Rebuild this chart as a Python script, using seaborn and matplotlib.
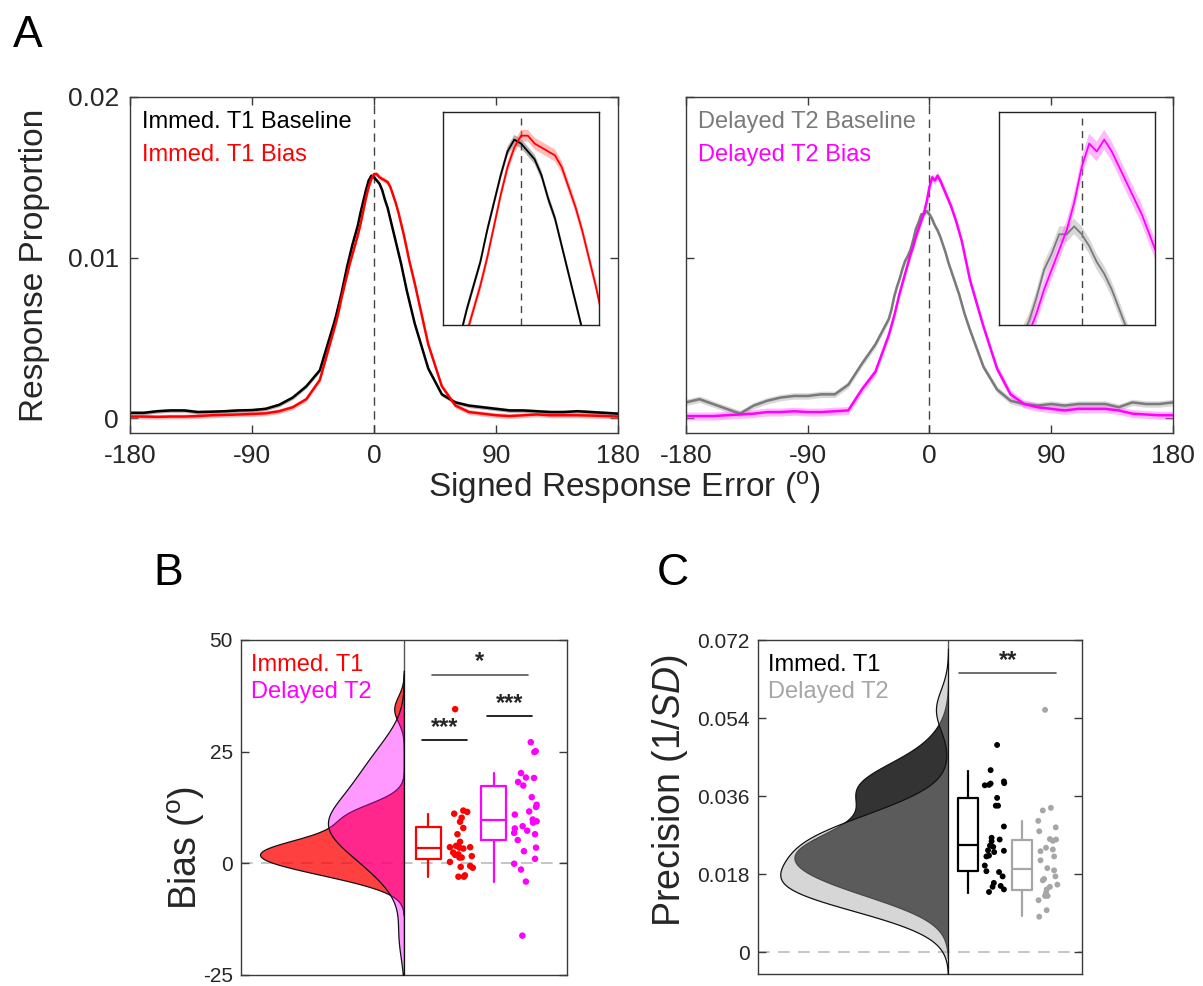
import numpy as np
import pandas as pd
import matplotlib
matplotlib.use("Agg")
import matplotlib.pyplot as plt
import seaborn as sns

# ---------------- data ----------------
# angle grid of the error histograms (coarse in the tails, fine near 0)
angles = list(range(-180, -29, 10)) + list(range(-28, 29, 2)) + list(range(30, 181, 10))

immed_baseline = [
    0.00035, 0.00035, 0.00045, 0.00050, 0.00050, 0.00040, 0.00042, 0.00045,
    0.00050, 0.00052, 0.00060, 0.00085, 0.00130, 0.00200, 0.00300, 0.00580,
    0.0064, 0.0071, 0.0078, 0.0086, 0.0094, 0.0101, 0.0108, 0.0114, 0.0120, 0.0128,
    0.0135, 0.0142, 0.0148, 0.0151, 0.0150, 0.0148, 0.0146, 0.0142, 0.0136, 0.0131,
    0.0124, 0.0117, 0.0110, 0.0103, 0.0096, 0.0088, 0.0080, 0.0073, 0.0066,
    0.0059, 0.0031, 0.0015, 0.0010, 0.0008, 0.0007, 0.0006, 0.0005,
    0.0005, 0.00045, 0.0004, 0.0004, 0.00045, 0.0004, 0.00035, 0.0003,
]
immed_bias = [
    0.00012, 0.00012, 0.00010, 0.00012, 0.00012, 0.00015, 0.00020, 0.00022,
    0.00025, 0.00028, 0.00032, 0.00045, 0.00070, 0.00120, 0.00240, 0.00540,
    0.0060, 0.0067, 0.0075, 0.0082, 0.0089, 0.0096, 0.0102, 0.0108, 0.0114, 0.0121,
    0.0129, 0.0137, 0.0144, 0.0149, 0.0152, 0.0152, 0.0150, 0.0149, 0.0148, 0.0147,
    0.0144, 0.0139, 0.0134, 0.0128, 0.0121, 0.0114, 0.0106, 0.0098, 0.0091,
    0.0084, 0.0046, 0.0020, 0.0008, 0.0004, 0.0003, 0.0002, 0.00015,
    0.0002, 0.00025, 0.0002, 0.0002, 0.0002, 0.00018, 0.00015, 0.00012,
]
delayed_baseline = [
    0.0010, 0.0012, 0.0009, 0.0006, 0.0003, 0.0008, 0.0011, 0.0013,
    0.0014, 0.0014, 0.0015, 0.0015, 0.0021, 0.0034, 0.0046, 0.0062,
    0.0068, 0.0076, 0.0082, 0.0087, 0.0093, 0.0098, 0.0101, 0.0105, 0.0111, 0.0118,
    0.0122, 0.0127, 0.0127, 0.0129, 0.0127, 0.0124, 0.0120, 0.0117, 0.0113, 0.0108,
    0.0103, 0.0097, 0.0092, 0.0087, 0.0082, 0.0077, 0.0071, 0.0065, 0.0060,
    0.0055, 0.0032, 0.0018, 0.0011, 0.0009, 0.0008, 0.0009, 0.0008,
    0.0009, 0.0009, 0.0009, 0.0007, 0.0010, 0.0009, 0.0009, 0.0010,
]
delayed_bias = [
    0.00015, 0.00015, 0.00015, 0.0002, 0.00025, 0.0003, 0.0004, 0.0004,
    0.00045, 0.0004, 0.0004, 0.00045, 0.0005, 0.0018, 0.0029, 0.0052,
    0.0058, 0.0064, 0.0071, 0.0078, 0.0084, 0.0090, 0.0096, 0.0102, 0.0107, 0.0113,
    0.0118, 0.0123, 0.0128, 0.0135, 0.0144, 0.0150, 0.0148, 0.0151, 0.0148, 0.0144,
    0.0140, 0.0136, 0.0132, 0.0127, 0.0122, 0.0116, 0.0110, 0.0102, 0.0094,
    0.0086, 0.0057, 0.0031, 0.0015, 0.0009, 0.0007, 0.0006, 0.0005,
    0.0006, 0.0006, 0.0006, 0.0005, 0.0003, 0.00025, 0.0002, 0.0002,
]
# SEM half-widths of the shaded bands
sem_immed_baseline = 0.00012
sem_immed_bias = 0.00015
sem_delayed_baseline = 0.0002
sem_delayed_bias = 0.00025

# panel B: bias per subject (deg)
bias_t1 = [34.5, 11.1, 11.8, 11.5, 10.2, 9.3, 7.9, 6.5, 4.8, 3.6, 3.9, 3.5, 3.3, 2.4,
           2.0, 1.9, 3.6, 1.3, 0.3, 1.6, 1.3, -0.6, -1.0, -0.8, -3.0, -2.7, -3.0]
bias_t1_jitter = [-0.018, -0.021, 0.007, 0.019, 0.002, -0.003, 0.007, -0.011, -0.003,
                  -0.034, -0.015, -0.005, 0.007, -0.024, -0.008, -0.018, 0.028, 0.002,
                  -0.034, 0.033, -0.005, 0.028, 0.036, -0.001, -0.008, 0.012, 0.009]
bias_t2 = [27.1, 25.1, 24.9, 20.2, 18.2, 19.2, 19.1, 17.4, 14.8, 13.1, 12.6, 11.6, 10.9,
           9.8, 9.4, 8.3, 7.3, 7.8, 6.8, 9.1, 5.2, 6.5, 2.7, 3.5, 1.0, -0.1, -1.4, -4.1, -16.2]
bias_t2_jitter = [0.018, 0.033, 0.029, -0.012, -0.021, 0.003, 0.028, -0.005, 0.021, 0.036,
                  0.034, 0.013, -0.031, 0.024, 0.036, -0.007, 0.007, -0.031, -0.033, 0.025,
                  -0.022, 0.031, -0.003, 0.034, 0.031, -0.033, -0.012, 0.003, -0.008]
# box stats: whisker low, q1, median, q3, whisker high
bias_t1_box = [-3.0, 1.0, 3.5, 8.1, 11.0]
bias_t2_box = [-4.1, 5.1, 9.7, 17.4, 20.2]

# panel C: precision per subject (1/SD)
prec_t1 = [0.0478, 0.0420, 0.0385, 0.0386, 0.0389, 0.0394, 0.0390, 0.0356, 0.0338, 0.0338,
           0.0290, 0.0264, 0.0256, 0.0260, 0.0246, 0.0243, 0.0235, 0.0231, 0.0234, 0.0221,
           0.0223, 0.0200, 0.0187, 0.0185, 0.0175, 0.0160, 0.0151, 0.0153, 0.0145, 0.0139]
prec_t1_jitter = [0.007, -0.013, -0.031, -0.018, -0.013, 0.028, 0.029, 0.007, 0.003, 0.010,
                  0.028, -0.010, -0.010, 0.015, -0.015, -0.005, -0.021, -0.002, 0.028, -0.026,
                  -0.018, -0.031, -0.026, 0.013, 0.024, -0.003, -0.007, 0.018, 0.028, -0.018]
prec_t2 = [0.0559, 0.0327, 0.0333, 0.0303, 0.0288, 0.0279, 0.0261, 0.0260, 0.0257, 0.0241,
           0.0233, 0.0237, 0.0221, 0.0212, 0.0194, 0.0189, 0.0169, 0.0166, 0.0175, 0.0156,
           0.0151, 0.0145, 0.0137, 0.0130, 0.0130, 0.0120, 0.0097, 0.0082]
prec_t2_jitter = [-0.009, -0.016, 0.009, -0.030, 0.024, -0.027, 0.006, 0.025, 0.015, -0.006,
                  -0.023, 0.015, 0.019, -0.023, -0.002, 0.019, -0.012, -0.016, 0.023, 0.029,
                  0.006, -0.004, -0.006, -0.009, -0.001, -0.029, -0.004, -0.027]
prec_t1_box = [0.0137, 0.0187, 0.0247, 0.0356, 0.0418]
prec_t2_box = [0.0083, 0.0143, 0.0192, 0.0260, 0.0302]

# ---------------- style ----------------
sns.set_style("ticks")
plt.rcParams["font.family"] = ["Liberation Sans", "DejaVu Sans"]
plt.rcParams["mathtext.fontset"] = "custom"
plt.rcParams["mathtext.rm"] = "Liberation Sans"
plt.rcParams["mathtext.it"] = "Liberation Sans:italic"
plt.rcParams["axes.unicode_minus"] = False
plt.rcParams["xtick.direction"] = "in"
plt.rcParams["ytick.direction"] = "in"

FRAME = "#3a3a3a"
TXT = "#262626"
RED = "#ff0000"
MAG = "#ff00ff"
GREY = "#7a7a7a"
LGREY = "#a6a6a6"

fig = plt.figure(figsize=(12.03, 9.86), dpi=100)


def style_frame(ax, lw=1.0):
    for s in ax.spines.values():
        s.set_visible(True)
        s.set_color(FRAME)
        s.set_linewidth(lw)


def draw_curve(ax, y, sem, color, band, lw):
    y = np.array(y)
    ax.fill_between(angles, y - sem, y + sem, color=band, alpha=0.45, lw=0)
    sns.lineplot(x=angles, y=y, color=color, lw=lw, ax=ax)


# ---------------- panel A ----------------
a_pos = [[0.1081, 0.5609, 0.4057, 0.3408], [0.5702, 0.5609, 0.4048, 0.3408]]
inset_pos = [[0.3683, 0.6704, 0.1297, 0.2160], [0.8304, 0.6704, 0.1297, 0.2160]]
curve_sets = [
    [(immed_baseline, sem_immed_baseline, "black", "#555555"),
     (immed_bias, sem_immed_bias, RED, "#ff6666")],
    [(delayed_baseline, sem_delayed_baseline, GREY, "#aaaaaa"),
     (delayed_bias, sem_delayed_bias, MAG, "#ff66ff")],
]
legend_sets = [
    [("Immed. T1 Baseline", "black"), ("Immed. T1 Bias", RED)],
    [("Delayed T2 Baseline", GREY), ("Delayed T2 Bias", MAG)],
]
inset_xlims = [(-23, 23), (-22, 19.5)]

for i in range(2):
    ax = fig.add_axes(a_pos[i])
    for y, sem, col, band in curve_sets[i]:
        draw_curve(ax, y, sem, col, band, 1.8)
    ax.axvline(0, color="#444444", ls=(0, (6, 4)), lw=1.0, zorder=0)
    ax.set_xlim(-180, 180)
    ax.set_ylim(-0.0009, 0.02)
    ax.set_xticks([-180, -90, 0, 90, 180])
    ax.set_yticks([0, 0.01, 0.02])
    if i == 0:
        ax.set_yticklabels(["0", "0.01", "0.02"])
        ax.set_ylabel("Response Proportion", fontsize=24, color=TXT)
        ax.yaxis.set_label_coords(-0.163, 0.5)
    else:
        ax.set_yticklabels([])
    ax.tick_params(top=True, right=True, length=6, width=1, color=FRAME,
                   labelsize=19, labelcolor=TXT, pad=8)
    style_frame(ax)
    ax.set_xlabel("")
    for k, (label, col) in enumerate(legend_sets[i]):
        ax.text(0.025, 0.926 - k * 0.099, label, transform=ax.transAxes, color=col,
                fontsize=17, va="center", ha="left")

    axi = fig.add_axes(inset_pos[i])
    for y, sem, col, band in curve_sets[i]:
        draw_curve(axi, y, sem, col, band, 1.3)
    axi.axvline(0, color="#444444", ls=(0, (5, 4)), lw=1.0, zorder=0)
    axi.set_xlim(*inset_xlims[i])
    axi.set_ylim(0.0104, 0.0158)
    axi.set_xticks([])
    axi.set_yticks([])
    axi.set_xlabel("")
    axi.set_ylabel("")
    for s in axi.spines.values():
        s.set_visible(True)
        s.set_color("#222222")
        s.set_linewidth(1.0)

fig.text(0.519, 0.506, r"Signed Response Error ($^{\mathrm{o}}$)", fontsize=24,
         color=TXT, ha="center", va="center")


# ---------------- panels B and C ----------------
def raincloud(pos, divider, ylim, yticks, yticklabels, groups, ylabel,
              label_xy, legends, bws):
    ax = fig.add_axes(pos)
    ax.set_xlim(0, 1)
    ax.set_ylim(*ylim)
    ax.axhline(0, color="#bbbbbb", ls=(0, (7, 5)), lw=1.2, zorder=0)
    ax.axvline(divider, color="#555555", lw=1.0)
    for g in groups:
        st = g["box"]
        ax.bxp([dict(whislo=st[0], q1=st[1], med=st[2], q3=st[3], whishi=st[4], fliers=[])],
               positions=[g["box_x"]], widths=g["box_w"], showcaps=False, showfliers=False,
               boxprops=dict(color=g["color"], lw=1.6),
               whiskerprops=dict(color=g["color"], lw=1.6),
               medianprops=dict(color=g["color"], lw=1.6))
        xs = g["pt_x"] + np.array(g["jitter"])
        sns.scatterplot(x=xs, y=g["values"], color=g["color"], s=g["s"],
                        edgecolor="none", legend=False, ax=ax)
    ax.set_xticks([])
    ax.set_yticks(yticks)
    ax.set_yticklabels(yticklabels)
    ax.tick_params(axis="y", left=True, right=True, length=6, width=1, color=FRAME,
                   labelsize=15, labelcolor=TXT, pad=6)
    style_frame(ax)
    ax.set_ylabel(ylabel, fontsize=27, color=TXT)
    ax.yaxis.set_label_coords(*label_xy)
    for k, (label, col) in enumerate(legends):
        ax.text(0.03, 0.925 - k * 0.081, label, transform=ax.transAxes, color=col,
                fontsize=17, va="center", ha="left", zorder=5)

    # half violins pointing left from the divider
    axv = fig.add_axes([pos[0], pos[1], pos[2] * divider, pos[3]])
    for g, bw in zip(groups, bws):
        sns.kdeplot(y=g["values"], ax=axv, fill=True, color=g["vcolor"], alpha=g["valpha"],
                    bw_adjust=bw, edgecolor="#111111", linewidth=0.9)
    peak = max(c.get_paths()[0].vertices[:, 0].max() for c in axv.collections)
    axv.set_xlim(peak / 0.883, 0)
    axv.set_ylim(*ylim)
    axv.axis("off")
    return ax


t1_b = dict(values=bias_t1, jitter=bias_t1_jitter, box=bias_t1_box, color=RED,
            box_x=0.575, pt_x=0.675, box_w=0.077, s=22, vcolor=RED, valpha=0.75)
t2_b = dict(values=bias_t2, jitter=bias_t2_jitter, box=bias_t2_box, color=MAG,
            box_x=0.775, pt_x=0.871, box_w=0.077, s=22, vcolor=MAG, valpha=0.4)
axB = raincloud([0.2003, 0.0112, 0.2710, 0.3398], 0.5, (-25, 50), [-25, 0, 25, 50],
                ["-25", "0", "25", "50"], [t1_b, t2_b],
                r"Bias ($^{\mathrm{o}}$)", (-0.105, 0.38),
                [("Immed. T1", RED), ("Delayed T2", MAG)], [0.75, 1.05])
# significance bars
for x0, x1, y, stars, col in [(0.586, 0.880, 42.2, "*", "#555555"),
                              (0.556, 0.692, 27.5, "***", "black"),
                              (0.756, 0.892, 33.0, "***", "black")]:
    axB.plot([x0, x1], [y, y], color=col, lw=1.2)
    axB.text((x0 + x1) / 2, y + 0.3, stars, ha="center", va="bottom", fontsize=17,
             fontweight="bold")

t1_c = dict(values=prec_t1, jitter=prec_t1_jitter, box=prec_t1_box, color="black",
            box_x=0.648, pt_x=0.731, box_w=0.062, s=18, vcolor="black", valpha=0.8)
t2_c = dict(values=prec_t2, jitter=prec_t2_jitter, box=prec_t2_box, color=LGREY,
            box_x=0.814, pt_x=0.895, box_w=0.062, s=18, vcolor="#999999", valpha=0.4)
axC = raincloud([0.6301, 0.0122, 0.2693, 0.3387], 0.587, (-0.005, 0.072),
                [0, 0.018, 0.036, 0.054, 0.072], ["0", "0.018", "0.036", "0.054", "0.072"],
                [t1_c, t2_c],
                r"Precision (1/$\mathit{SD}$)", (-0.21, 0.55),
                [("Immed. T1", "black"), ("Delayed T2", LGREY)], [1.05, 0.95])
axC.plot([0.621, 0.920], [0.0644, 0.0644], color="#555555", lw=1.2)
axC.text(0.7705, 0.0647, "**", ha="center", va="bottom", fontsize=17, fontweight="bold")

# panel letters
for x, y, s in [(0.023, 0.964, "A"), (0.140, 0.418, "B"), (0.559, 0.418, "C")]:
    fig.text(x, y, s, fontsize=32, ha="center", va="center", color="black")

fig.savefig("out.png", dpi=100)
